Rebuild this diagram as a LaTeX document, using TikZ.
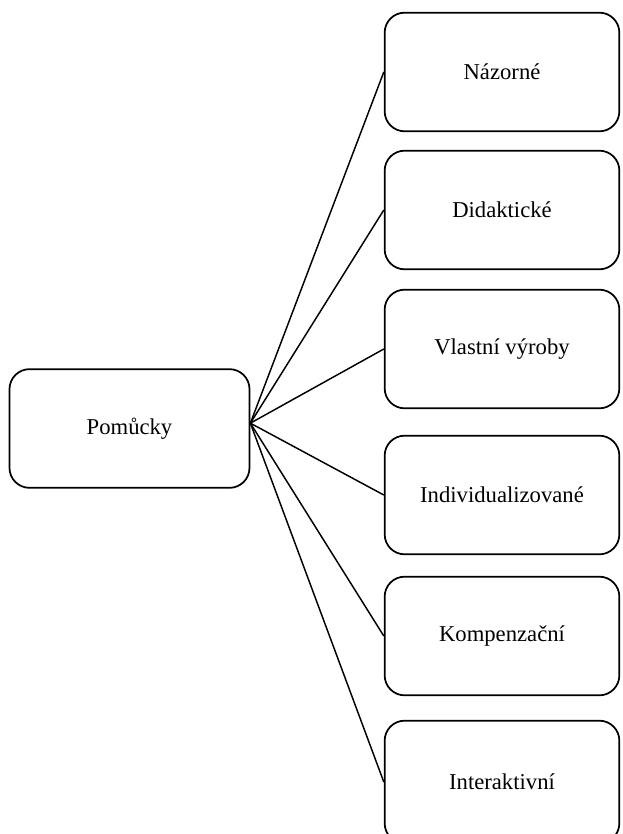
\documentclass[tikz,border=0pt]{standalone}
\usepackage{fontspec}
\setmainfont{Liberation Serif}
\begin{document}
\begin{tikzpicture}[x=0.75pt,y=-0.75pt,
  box/.style={draw, line width=1.3pt, rounded corners=15pt, fill=white,
    minimum width=176pt, minimum height=89pt, inner sep=0pt,
    font=\fontsize{17}{20}\selectfont},
  link/.style={line width=1.1pt}]
\path[use as bounding box, clip] (0,0) rectangle (622,834);
\fill[white] (0,0) rectangle (622,834);
\node[box, minimum width=180pt] (root) at (129.5,428.5) {Pomůcky};
\node[box] (a) at (502,72) {Názorné};
\node[box] (b) at (502,210) {Didaktické};
\node[box] (c) at (502,349) {Vlastní výroby};
\node[box] (d) at (502,495) {Individualizované};
\node[box] (e) at (502,636) {Kompenzační};
\node[box, minimum height=92pt] (f) at (502,782) {Interaktivní};
\coordinate (hub) at ([yshift=4pt]root.east);
\foreach \t in {a,b,c,d,e,f}
  \draw[link] (hub) -- (\t.west);
\end{tikzpicture}
\end{document}
